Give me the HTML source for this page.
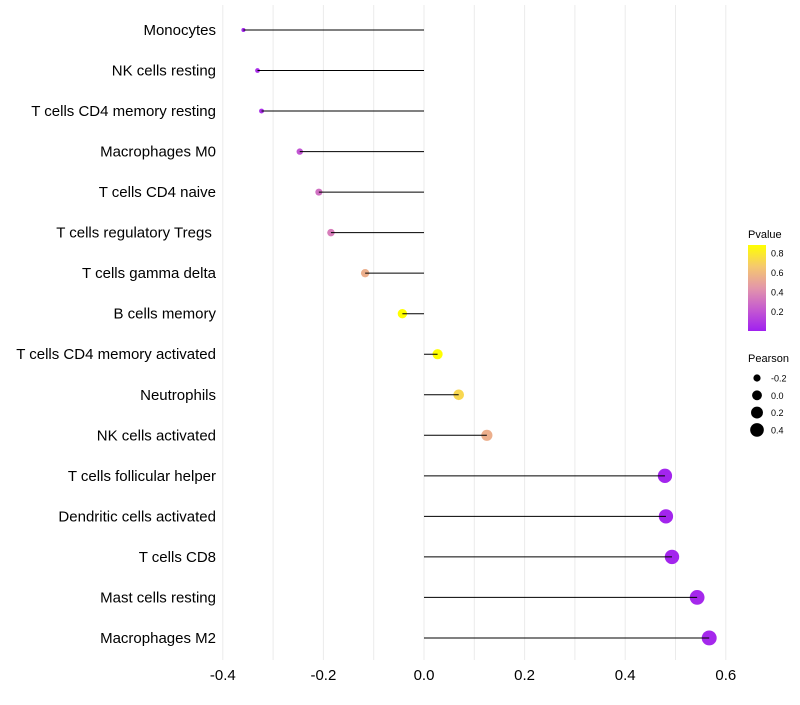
<!DOCTYPE html>
<html><head><meta charset="utf-8"><style>
body{margin:0;background:#fff;font-family:"Liberation Sans",sans-serif}
</style></head><body>
<svg id="chart" width="800" height="700" xmlns="http://www.w3.org/2000/svg"></svg>
<script>
const categories=["Monocytes","NK cells resting","T cells CD4 memory resting","Macrophages M0","T cells CD4 naive","T cells regulatory  Tregs\u00a0","T cells gamma delta","B cells memory","T cells CD4 memory activated","Neutrophils","NK cells activated","T cells follicular helper","Dendritic cells activated","T cells CD8","Mast cells resting","Macrophages M2"];
const pearson=[-0.359,-0.331,-0.323,-0.247,-0.209,-0.185,-0.117,-0.043,0.027,0.069,0.125,0.479,0.481,0.493,0.543,0.567];
const pvalue=[0.02,0.05,0.06,0.2,0.3,0.35,0.55,0.88,0.88,0.72,0.55,0.02,0.02,0.02,0.03,0.03];
const xTicks=[-0.4,-0.2,0,0.2,0.4,0.6];
const pTicks=[0.2,0.4,0.6,0.8];
const sizeTicks=[-0.2,0,0.2,0.4];

const svg=document.getElementById('chart');
const NS="http://www.w3.org/2000/svg";
const x=v=>424+v*503;
const y=i=>30+i*40.53;
const rad=v=>Math.sqrt(Math.max(1,24.2+56*v));
const stops=[[0,[160,32,240]],[0.25,[197,90,208]],[0.5,[227,150,170]],[0.75,[245,200,110]],[1,[255,255,0]]];
function col(p){let t=Math.min(1,Math.max(0,p/0.88));for(let k=1;k<stops.length;k++){if(t<=stops[k][0]){const a=stops[k-1],b=stops[k];const f=(t-a[0])/(b[0]-a[0]);const c=a[1].map((v,j)=>Math.round(v+(b[1][j]-v)*f));return `rgb(${c})`;}}return 'rgb(255,255,0)';}
function el(t,a,txt){const e=document.createElementNS(NS,t);for(const k in a)e.setAttribute(k,a[k]);if(txt!==undefined)e.textContent=txt;svg.appendChild(e);return e;}

for(let v=-0.4;v<=0.61;v+=0.1){
 const g=el('line',{x1:x(v),x2:x(v),y1:5,y2:660,stroke:'#ebebeb','stroke-width':1});
 
 
}
xTicks.forEach(t=>{
 const e=el('text',{x:x(t),y:680,'font-size':15,'text-anchor':'middle',fill:'#000'},t===0?'0.0':t.toFixed(1));
 
 
});
categories.forEach((c,i)=>{
 const t=el('text',{x:216,y:y(i)+5,'font-size':15,'text-anchor':'end',fill:'#000'},c);
 
 
 const p=el('circle',{cx:x(pearson[i]),cy:y(i),r:rad(pearson[i]),fill:col(pvalue[i])});
 
 
 const l=el('line',{x1:x(0),x2:x(pearson[i]),y1:y(i),y2:y(i),stroke:'#000','stroke-width':1});
 
 
});
const lt=el('text',{x:748,y:238,'font-size':11},'Pvalue');


const defs=el('defs',{});
const lg=document.createElementNS(NS,'linearGradient');lg.setAttribute('id','pg');lg.setAttribute('x1','0');lg.setAttribute('y1','1');lg.setAttribute('x2','0');lg.setAttribute('y2','0');
stops.forEach(s=>{const st=document.createElementNS(NS,'stop');st.setAttribute('offset',s[0]);st.setAttribute('stop-color',`rgb(${s[1]})`);lg.appendChild(st);});
defs.appendChild(lg);
const cb=el('rect',{x:748,y:245,width:18,height:86,fill:'url(#pg)'});


const py=p=>331-p/0.88*86;
pTicks.forEach(p=>{
 const t=el('text',{x:771,y:py(p)+3.5,'font-size':9},p.toFixed(1));
 
 
});
const st=el('text',{x:748,y:362,'font-size':11},'Pearson');


sizeTicks.forEach((s,k)=>{
 const cy=378+k*17.3;
 const c=el('circle',{cx:757,cy:cy,r:rad(s),fill:'#000'});
 
 
 const t=el('text',{x:771,y:cy+3.5,'font-size':9},s===0?'0.0':s.toFixed(1));
 
 
});
</script>
</body></html>
